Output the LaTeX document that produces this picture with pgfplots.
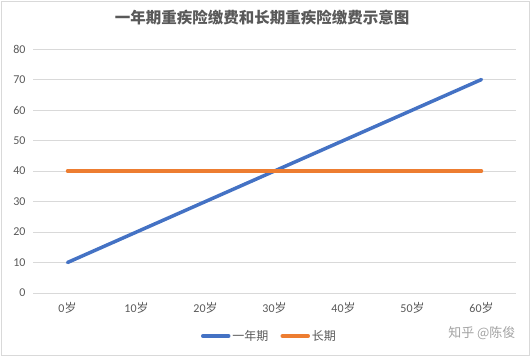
\documentclass[border=0pt]{standalone}
\usepackage{pgfplots}
\pgfplotsset{compat=1.18}
\usepackage{fontspec}
\setmainfont{Carlito}
\newfontfamily\cjk{Noto Sans CJK SC}
\definecolor{txt}{HTML}{595959}
\definecolor{grd}{HTML}{D9D9D9}
\definecolor{xblue}{HTML}{4472C4}
\definecolor{xorange}{HTML}{ED7D31}
\begin{document}
\begin{tikzpicture}[x=1pt,y=1pt]
\path[use as bounding box] (0,0) rectangle (532,357);
\draw[grd, line width=1pt] (1.5,1.5) rectangle (529.5,355.5);
\node[text=txt, font=\cjk\bfseries\fontsize{15.5}{17}\selectfont] at (262,339) {一年期重疾险缴费和长期重疾险缴费示意图};
\node[text=grd!75!black, font=\cjk\fontsize{13}{15}\selectfont, anchor=east] at (519,24) {知乎 @陈俊};
\begin{axis}[
  at={(33pt,64pt)}, anchor=south west,
  scale only axis, width=483pt, height=244pt,
  xmin=-0.5, xmax=6.5, ymin=0, ymax=80,
  xtick={0,...,6},
  xticklabels={0{\cjk 岁},10{\cjk 岁},20{\cjk 岁},30{\cjk 岁},40{\cjk 岁},50{\cjk 岁},60{\cjk 岁}},
  ytick={0,10,...,80},
  ymajorgrids, grid style={grd, line width=0.8pt},
  axis line style={draw=none},
  major tick length=0pt,
  tick label style={text=txt, font=\fontsize{12}{14}\selectfont},
  /pgf/number format/assume math mode=true,
  yticklabel style={xshift=-4pt},
  xticklabel style={yshift=-6pt},
  legend columns=2,
  legend style={at={(0.5,0)}, xshift=-5pt, yshift=-43pt, anchor=center, draw=none, fill=none,
    font=\cjk\fontsize{12}{14}\selectfont, text=txt,
    /tikz/every even column/.append style={column sep=10pt}},
  legend image code/.code={\draw[#1, line width=3.5pt, line cap=round] (0pt,0pt) -- (26pt,0pt);},
]
\addplot[xblue, line width=3.5pt, line cap=round] coordinates {(0,10) (1,20) (2,30) (3,40) (4,50) (5,60) (6,70)};
\addlegendentry{一年期}
\addplot[xorange, line width=3.5pt, line cap=round] coordinates {(0,40) (1,40) (2,40) (3,40) (4,40) (5,40) (6,40)};
\addlegendentry{长期}
\end{axis}
\end{tikzpicture}
\end{document}
